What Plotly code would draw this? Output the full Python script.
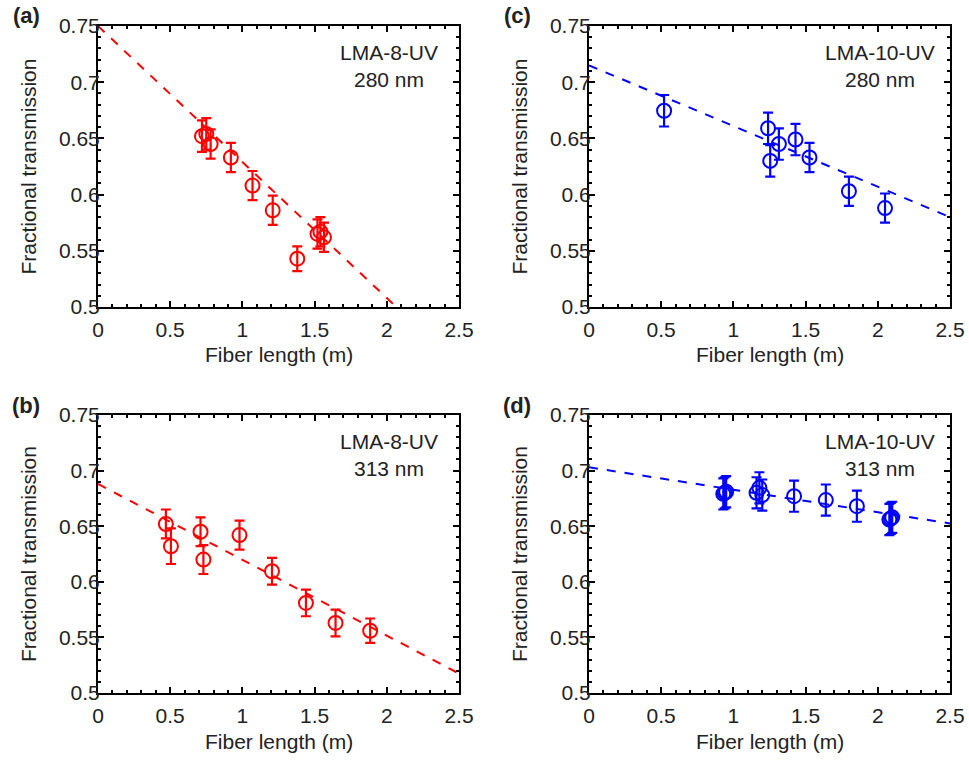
import plotly.graph_objects as go

# ---------------- data ----------------
len_a = [0.72, 0.75, 0.78, 0.92, 1.07, 1.21, 1.38, 1.52, 1.54, 1.565]
trans_a = [0.652, 0.654, 0.645, 0.633, 0.608, 0.586, 0.543, 0.565, 0.567, 0.562]
err_a = [0.014, 0.014, 0.013, 0.013, 0.013, 0.013, 0.011, 0.013, 0.013, 0.013]
fit_a = [0.750, -0.121]  # intercept, slope

len_b = [0.47, 0.505, 0.71, 0.73, 0.98, 1.205, 1.44, 1.645, 1.885]
trans_b = [0.652, 0.632, 0.645, 0.620, 0.642, 0.6095, 0.581, 0.563, 0.556]
err_b = [0.013, 0.016, 0.013, 0.013, 0.013, 0.012, 0.012, 0.012, 0.011]
fit_b = [0.688, -0.0682]

len_c = [0.52, 1.24, 1.255, 1.315, 1.43, 1.527, 1.80, 2.05]
trans_c = [0.6746, 0.659, 0.630, 0.645, 0.649, 0.633, 0.603, 0.588]
err_c = [0.014, 0.014, 0.014, 0.014, 0.014, 0.013, 0.013, 0.013]
fit_c = [0.715, -0.054]

len_d = [0.93, 0.95, 0.94, 1.16, 1.18, 1.20, 1.42, 1.64, 1.855, 2.08, 2.10, 2.09]
trans_d = [0.679, 0.681, 0.680, 0.680, 0.6845, 0.678, 0.677, 0.6735, 0.668, 0.656, 0.658, 0.657]
err_d = [0.014] * 12
fit_d = [0.703, -0.0202]

x_ticks = [0, 0.5, 1, 1.5, 2, 2.5]
y_ticks = [0.5, 0.55, 0.6, 0.65, 0.7, 0.75]

panels = [
    dict(lbl="(a)", L=len_a, T=trans_a, E=err_a, fit=fit_a, color="#FF0000",
         fiber="LMA-8-UV", wl="280 nm", xd=[98, 459], yd=[26, 307]),
    dict(lbl="(b)", L=len_b, T=trans_b, E=err_b, fit=fit_b, color="#FF0000",
         fiber="LMA-8-UV", wl="313 nm", xd=[98, 459], yd=[415, 693]),
    dict(lbl="(c)", L=len_c, T=trans_c, E=err_c, fit=fit_c, color="#0000FF",
         fiber="LMA-10-UV", wl="280 nm", xd=[589, 950], yd=[26, 307]),
    dict(lbl="(d)", L=len_d, T=trans_d, E=err_d, fit=fit_d, color="#0000FF",
         fiber="LMA-10-UV", wl="313 nm", xd=[589, 950], yd=[415, 693]),
]

W, H = 969, 761
FONT = "Liberation Sans, Arial, sans-serif"
TXT = "#222222"
fig = go.Figure()
annotations = []


def ann(text, px, py, size=21, angle=0):
    annotations.append(dict(text=text, x=px / W, y=1 - py / H,
                            xref="paper", yref="paper",
                            showarrow=False, xanchor="center", yanchor="middle",
                            textangle=angle, font=dict(family=FONT, size=size, color=TXT)))


for i, p in enumerate(panels, start=1):
    xa = "x" if i == 1 else f"x{i}"
    ya = "y" if i == 1 else f"y{i}"
    xr = [0, 2.5]
    fy = [p["fit"][0] + p["fit"][1] * v for v in xr]
    fig.add_trace(go.Scatter(
        x=xr, y=fy, mode="lines", xaxis=xa, yaxis=ya,
        line=dict(color=p["color"], width=2, dash="dash"),
        showlegend=False, hoverinfo="skip"))
    fig.add_trace(go.Scatter(
        x=p["L"], y=p["T"], mode="markers", xaxis=xa, yaxis=ya,
        marker=dict(symbol="circle-open", size=14, color=p["color"],
                    line=dict(width=2, color=p["color"])),
        error_y=dict(type="data", array=p["E"], visible=True,
                     color=p["color"], thickness=2.2, width=5),
        showlegend=False))

    x0, x1 = p["xd"]
    y0, y1 = p["yd"]
    xdom = [x0 / W, x1 / W]
    ydom = [1 - y1 / H, 1 - y0 / H]
    axis_common = dict(
        showline=True, linecolor="black", linewidth=2, mirror="ticks",
        ticks="inside", ticklen=6, tickwidth=1.5, tickcolor="black",
        showgrid=False, zeroline=False, automargin=False,
        tickfont=dict(family=FONT, size=21, color=TXT),
    )
    xkey = "xaxis" if i == 1 else f"xaxis{i}"
    ykey = "yaxis" if i == 1 else f"yaxis{i}"
    fig.update_layout(**{
        xkey: dict(axis_common, domain=xdom, range=xr, anchor=ya,
                   tickvals=x_ticks, ticktext=[f"{v:g}" for v in x_ticks],
                   ticklabelstandoff=3,
                   minor=dict(dtick=0.1, ticks="inside", ticklen=3, tickcolor="black", tickwidth=1.5)),
        ykey: dict(axis_common, domain=ydom, range=[0.5, 0.75], anchor=xa,
                   tickvals=y_ticks, ticktext=[f"{v:g}" for v in y_ticks],
                   ticklabelstandoff=-8,
                   minor=dict(dtick=0.01, ticks="inside", ticklen=3, tickcolor="black", tickwidth=1.5)),
    })
    ann(p["fiber"], x1 - 70, y0 + 26)
    ann(p["wl"], x1 - 70, y0 + 53)
    ann("<b>" + p["lbl"] + "</b>", x0 - 72, y0 - 10, size=22)
    ann("Fiber length (m)", (x0 + x1) / 2, y1 + 48)
    ann("Fractional transmission", x0 - 70, (y0 + y1) / 2, angle=-90)

fig.update_layout(
    width=W, height=H, margin=dict(l=0, r=0, t=0, b=0),
    paper_bgcolor="white", plot_bgcolor="white",
    annotations=annotations,
)

fig.write_html("out.html",
               config={"displayModeBar": False},
               post_script="document.body.style.margin='0';document.body.style.overflow='hidden';")
